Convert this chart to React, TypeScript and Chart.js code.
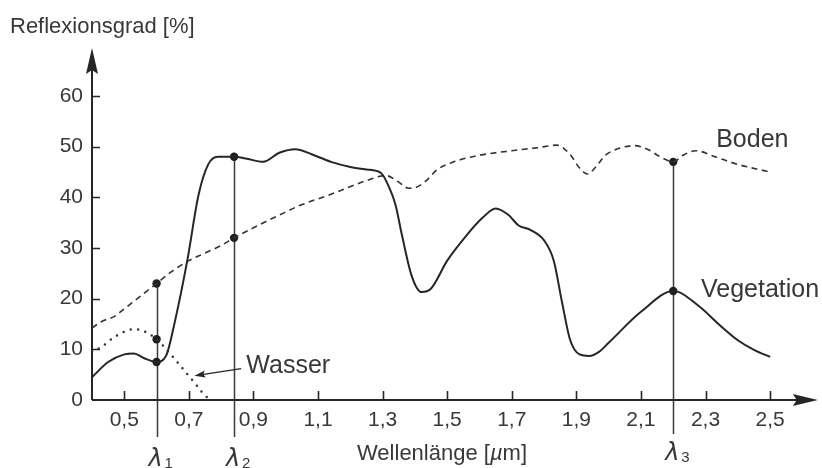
import React, { useEffect, useRef } from "react";
import { Chart, registerables } from "chart.js";

Chart.register(...registerables);

// ---- data ----
const xTicks = [0.5, 0.7, 0.9, 1.1, 1.3, 1.5, 1.7, 1.9, 2.1, 2.3, 2.5];
const yTicks = [0, 10, 20, 30, 40, 50, 60];

const vegX = [0.4, 0.45, 0.5, 0.53, 0.56, 0.6, 0.63, 0.655, 0.695, 0.73, 0.76, 0.79, 0.84, 0.88, 0.93, 0.98, 1.03, 1.08, 1.14, 1.2, 1.25, 1.295, 1.32, 1.34, 1.36, 1.39, 1.42, 1.45, 1.5, 1.56, 1.61, 1.65, 1.69, 1.72, 1.76, 1.8, 1.83, 1.855, 1.88, 1.91, 1.94, 1.97, 2.0, 2.1, 2.2, 2.28, 2.34, 2.4, 2.45, 2.5];
const vegY = [4.5, 7.5, 9.0, 9.2, 8.3, 7.5, 8.8, 15, 27.5, 40.5, 46.5, 48, 48, 47.6, 47, 48.8, 49.5, 48.5, 47, 46, 45.5, 44.8, 42, 38.5, 32.5, 24.5, 21.3, 22, 27.5, 32.5, 36, 37.8, 36.5, 34.5, 33.5, 31.5, 27.5, 19.5, 12, 9, 8.7, 9.5, 11.3, 17.4, 21.5, 18.5, 15, 11.8, 9.9, 8.5];

const bodenX = [0.4, 0.43, 0.47, 0.5, 0.55, 0.6, 0.65, 0.7, 0.75, 0.8, 0.84, 0.9, 0.98, 1.04, 1.14, 1.25, 1.31, 1.35, 1.38, 1.4, 1.43, 1.47, 1.52, 1.6, 1.7, 1.78, 1.84, 1.88, 1.91, 1.935, 1.96, 1.99, 2.04, 2.08, 2.12, 2.16, 2.2, 2.23, 2.27, 2.33, 2.4, 2.5];
const bodenY = [14.2, 15.5, 16.5, 18, 20.5, 23, 25.5, 27.5, 29, 30.5, 32, 34, 36.5, 38.3, 40.6, 43.3, 44.3, 43, 41.8, 41.9, 43, 45.5, 47, 48.3, 49.2, 49.8, 50.3, 48.5, 45.8, 44.6, 46, 48.3, 49.8, 50.2, 49.5, 48, 47, 48.3, 49.2, 48, 46.5, 45];

const wasserX = [0.4, 0.43, 0.46, 0.49, 0.53, 0.56, 0.6, 0.63, 0.66, 0.69, 0.72, 0.74, 0.757];
const wasserY = [9.5, 10.5, 12, 13.2, 14, 13.6, 12, 10, 7.8, 5.5, 3.2, 1.6, 0.5];

const lambdaX = [0.6, 0.84, 2.2];
const lambdaNames = ["1", "2", "3"];
const markerX = [0.6, 0.6, 0.6, 0.84, 0.84, 2.2, 2.2];
const markerY = [23, 12, 7.5, 48, 32, 47, 21.5];

const FONT = "'Liberation Sans', Arial, Helvetica, sans-serif";
const TEXT = "#383838";
const INK = "#262626";

const zip = (xs: number[], ys: number[]) => xs.map((x, i) => ({ x, y: ys[i] }));

function arrowHead(ctx: CanvasRenderingContext2D, tx: number, ty: number, ang: number, len: number, half: number, notch: number) {
  ctx.save();
  ctx.translate(tx, ty);
  ctx.rotate(ang);
  ctx.beginPath();
  ctx.moveTo(0, 0);
  ctx.lineTo(-len, -half);
  ctx.lineTo(-len + notch, 0);
  ctx.lineTo(-len, half);
  ctx.closePath();
  ctx.fill();
  ctx.restore();
}

const decor = {
  id: "decor",
  beforeDatasetsDraw(chart: any) {
    const { ctx, scales } = chart;
    const xs = scales.x, ys = scales.y;
    ctx.save();
    ctx.strokeStyle = "#3a3a3a";
    ctx.lineWidth = 1.5;
    lambdaX.forEach((lx, i) => {
      let top = 0;
      markerX.forEach((mx, j) => { if (mx === lx) top = Math.max(top, markerY[j]); });
      const px = Math.round(xs.getPixelForValue(lx)) + 0.5;
      ctx.beginPath();
      ctx.moveTo(px, ys.getPixelForValue(top));
      ctx.lineTo(px, ys.getPixelForValue(0) + (i === 2 ? 34 : 37));
      ctx.stroke();
    });
    ctx.restore();
  },
  afterDraw(chart: any) {
    const { ctx, scales, chartArea } = chart;
    const xs = scales.x, ys = scales.y;
    const x0 = xs.getPixelForValue(0.4);
    const y0 = ys.getPixelForValue(0);
    ctx.save();
    ctx.strokeStyle = INK;
    ctx.fillStyle = INK;
    ctx.lineWidth = 2;
    // axes
    ctx.beginPath();
    ctx.moveTo(x0, y0);
    ctx.lineTo(chartArea.right - 10, y0);
    ctx.moveTo(x0, y0);
    ctx.lineTo(x0, chartArea.top + 10);
    ctx.stroke();
    arrowHead(ctx, chartArea.right, y0, 0, 25, 6, 4);
    arrowHead(ctx, x0, chartArea.top, -Math.PI / 2, 26, 6, 4);
    // tick marks
    ctx.lineWidth = 1.6;
    ctx.beginPath();
    xTicks.forEach((v) => {
      const p = Math.round(xs.getPixelForValue(v)) + 0.5;
      ctx.moveTo(p, y0);
      ctx.lineTo(p, y0 - 9);
    });
    yTicks.forEach((v) => {
      if (v === 0) return;
      const p = Math.round(ys.getPixelForValue(v)) + 0.5;
      ctx.moveTo(x0, p);
      ctx.lineTo(x0 + 8, p);
    });
    ctx.stroke();

    // texts
    ctx.fillStyle = TEXT;
    ctx.textBaseline = "alphabetic";
    ctx.textAlign = "left";
    ctx.font = `22px ${FONT}`;
    ctx.fillText("Reflexionsgrad [%]", 10, 33);

    // x title with italic µ
    let tx = 357;
    const ty = 460;
    const parts: [string, string][] = [["Wellenlänge [", `22px ${FONT}`], ["µ", `italic 22px ${FONT}`], ["m]", `22px ${FONT}`]];
    parts.forEach(([s, f]) => {
      ctx.font = f;
      ctx.fillText(s, tx, ty);
      tx += ctx.measureText(s).width;
    });

    // series labels
    ctx.font = `25px ${FONT}`;
    ctx.fillText("Boden", xs.getPixelForValue(2.333), ys.getPixelForValue(50));
    ctx.fillText("Vegetation", xs.getPixelForValue(2.286), ys.getPixelForValue(20.4));
    ctx.fillText("Wasser", xs.getPixelForValue(0.878), ys.getPixelForValue(5.3));

    // Wasser arrow
    const ax1 = xs.getPixelForValue(0.862), ay1 = ys.getPixelForValue(6.2);
    const ax2 = xs.getPixelForValue(0.717), ay2 = ys.getPixelForValue(4.8);
    ctx.strokeStyle = INK;
    ctx.fillStyle = INK;
    ctx.lineWidth = 1.4;
    ctx.beginPath();
    ctx.moveTo(ax1, ay1);
    ctx.lineTo(ax2 + 6, ay2 - 0.8);
    ctx.stroke();
    arrowHead(ctx, ax2, ay2, Math.atan2(ay2 - ay1, ax2 - ax1), 11, 3.5, 2);

    // lambda labels
    ctx.fillStyle = TEXT;
    lambdaX.forEach((lx, i) => {
      const px = xs.getPixelForValue(lx);
      const base = i === 2 ? 460 : 466;
      ctx.font = `italic 24px 'DejaVu Sans', ${FONT}`;
      ctx.textAlign = "center";
      ctx.fillText("λ", px - 1, base);
      ctx.font = `15px ${FONT}`;
      ctx.textAlign = "left";
      ctx.fillText(lambdaNames[i], px + 8, base + 2);
    });
    ctx.restore();
  },
};

export default function App() {
  const ref = useRef<HTMLCanvasElement | null>(null);
  useEffect(() => {
    if (!ref.current) return;
    const pxPerX = 323; // pixels per µm
    const pxPerY = 304 / 60;
    const chart = new Chart(ref.current, {
      type: "line",
      data: {
        datasets: [
          {
            label: "Vegetation",
            data: zip(vegX, vegY),
            borderColor: INK,
            borderWidth: 2,
            pointRadius: 0,
            cubicInterpolationMode: "monotone",
            fill: false,
          },
          {
            label: "Boden",
            data: zip(bodenX, bodenY),
            borderColor: "#333",
            borderWidth: 1.6,
            borderDash: [6, 4.5],
            pointRadius: 0,
            cubicInterpolationMode: "monotone",
            fill: false,
          },
          {
            label: "Wasser",
            data: zip(wasserX, wasserY),
            borderColor: "#333",
            borderWidth: 2.5,
            borderDash: [0, 7.5],
            borderCapStyle: "round",
            pointRadius: 0,
            cubicInterpolationMode: "monotone",
            fill: false,
          },
          {
            label: "Punkte",
            data: zip(markerX, markerY),
            showLine: false,
            pointRadius: 4.2,
            pointBackgroundColor: "#1f1f1f",
            pointBorderWidth: 0,
            borderColor: "#1f1f1f",
          },
        ],
      },
      options: {
        responsive: false,
        animation: false,
        events: [],
        layout: { padding: { left: 0, top: 48, right: 4, bottom: 0 } },
        plugins: { legend: { display: false }, tooltip: { enabled: false } },
        scales: {
          x: {
            type: "linear",
            min: 0.4,
            max: 0.4 + 726 / pxPerX,
            grid: { display: false, drawTicks: false },
            border: { display: false },
            afterBuildTicks: (s: any) => {
              s.ticks = xTicks.map((v) => ({ value: v }));
            },
            afterFit: (s: any) => {
              s.height = 68;
            },
            ticks: {
              padding: 8,
              color: TEXT,
              font: { family: FONT, size: 21 },
              maxRotation: 0,
              autoSkip: false,
              callback: (v: any) => Number(v).toFixed(1).replace(".", ","),
            },
          },
          y: {
            type: "linear",
            min: 0,
            max: 352 / pxPerY,
            grid: { display: false, drawTicks: false },
            border: { display: false },
            afterBuildTicks: (s: any) => {
              s.ticks = yTicks.map((v) => ({ value: v }));
            },
            afterFit: (s: any) => {
              s.width = 92;
            },
            ticks: {
              padding: 9,
              color: TEXT,
              font: { family: FONT, size: 21 },
              autoSkip: false,
              callback: (v: any) => String(v),
            },
          },
        },
      },
      plugins: [decor],
    } as any);
    return () => chart.destroy();
  }, []);
  return (
    <canvas
      ref={ref}
      width={822}
      height={468}
      style={{ position: "absolute", left: 0, top: 0, background: "#fff" }}
    />
  );
}
